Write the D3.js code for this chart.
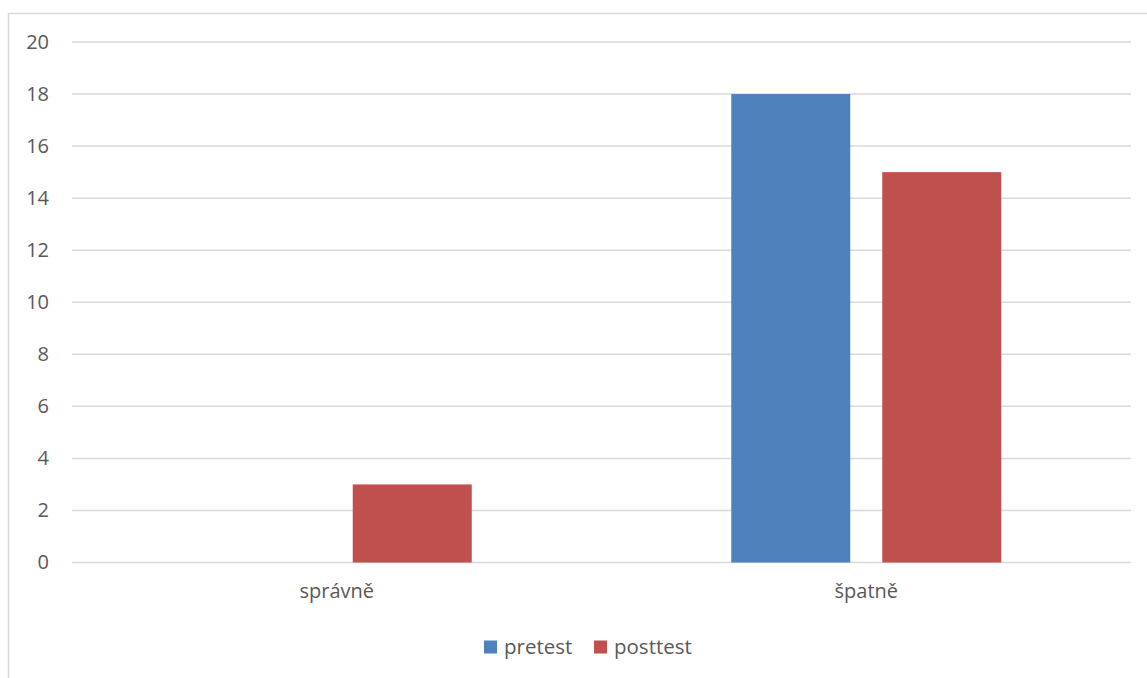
<!DOCTYPE html>
<html>
<head>
<meta charset="utf-8">
<script src="https://cdn.jsdelivr.net/npm/d3@7"></script>
<style>
  html, body { margin: 0; padding: 0; background: #fff; }
  svg { display: block; }
  text { font-family: "Open Sans", "Noto Sans", sans-serif; fill: #595959; }
</style>
</head>
<body>
<script>
// Answer counts per category, before and after the lesson
const categories = ["správně", "špatně"];
const seriesNames = ["pretest", "posttest"];
const pretest = [0, 18];
const posttest = [3, 15];
const yTicks = [0, 2, 4, 6, 8, 10, 12, 14, 16, 18, 20];
const seriesColors = ["#4F81BD", "#C0504D"];

const W = 1147, H = 678;
const plot = { left: 72, right: 1131, top: 42, bottom: 562.5 };

const svg = d3.select("body").append("svg")
  .attr("width", W).attr("height", H);

// chart frame (top and left edges visible, rest runs off the canvas)
svg.append("rect")
  .attr("x", 8.5).attr("y", 13.5)
  .attr("width", W + 20).attr("height", H + 20)
  .attr("fill", "#fff").attr("stroke", "#D9D9D9").attr("stroke-width", 1.5);

const x0 = d3.scaleBand().domain(categories)
  .range([plot.left, plot.right]).paddingInner(0).paddingOuter(0);
// inner band: bar width 119 px with 32 px between bars, ~130 px outer gap
const x1 = d3.scaleBand().domain(seriesNames)
  .range([0, x0.bandwidth()]).paddingInner(32 / 151).paddingOuter(129.75 / 151);
const y = d3.scaleLinear().domain([0, 20]).range([plot.bottom, plot.top]);

// gridlines
svg.append("g").selectAll("line").data(yTicks).join("line")
  .attr("x1", plot.left).attr("x2", plot.right)
  .attr("y1", d => y(d)).attr("y2", d => y(d))
  .attr("stroke", "#D9D9D9").attr("stroke-width", 1.5);

// y axis labels
const yAxis = d3.axisLeft(y).tickValues(yTicks).tickSize(0).tickPadding(0);
const gy = svg.append("g").attr("transform", `translate(49,0)`).call(yAxis);
gy.select(".domain").remove();
gy.selectAll("text")
  .attr("font-size", "20px").attr("fill", "#595959")
  .style("font-family", "\"Open Sans\", sans-serif");

// bars
const rows = categories.map((c, i) => ({ cat: c, values: [pretest[i], posttest[i]] }));
svg.append("g").selectAll("g").data(rows).join("g")
  .attr("transform", d => `translate(${x0(d.cat)},0)`)
  .selectAll("rect")
  .data(d => d.values.map((v, j) => ({ name: seriesNames[j], value: v, color: seriesColors[j] })))
  .join("rect")
  .filter(d => d.value > 0)
  .attr("x", d => x1(d.name))
  .attr("width", x1.bandwidth())
  .attr("y", d => y(d.value))
  .attr("height", d => y(0) - y(d.value))
  .attr("fill", d => d.color);

// category labels
const xAxis = d3.axisBottom(x0).tickSize(0).tickPadding(0);
const gx = svg.append("g").attr("transform", `translate(0,${plot.bottom + 21})`).call(xAxis);
gx.select(".domain").remove();
gx.selectAll("text")
  .attr("font-size", "20px").attr("fill", "#595959")
  .style("font-family", "\"Open Sans\", sans-serif");

// legend
const legendItems = [
  { name: seriesNames[0], color: seriesColors[0], x: 484 },
  { name: seriesNames[1], color: seriesColors[1], x: 594 }
];
const lg = svg.append("g").selectAll("g").data(legendItems).join("g")
  .attr("transform", d => `translate(${d.x},640.5)`);
lg.append("rect").attr("width", 13).attr("height", 13).attr("fill", d => d.color);
lg.append("text").attr("x", 20).attr("y", 6.5).attr("dy", "0.35em")
  .attr("font-size", "20.5px").text(d => d.name);
</script>
</body>
</html>
